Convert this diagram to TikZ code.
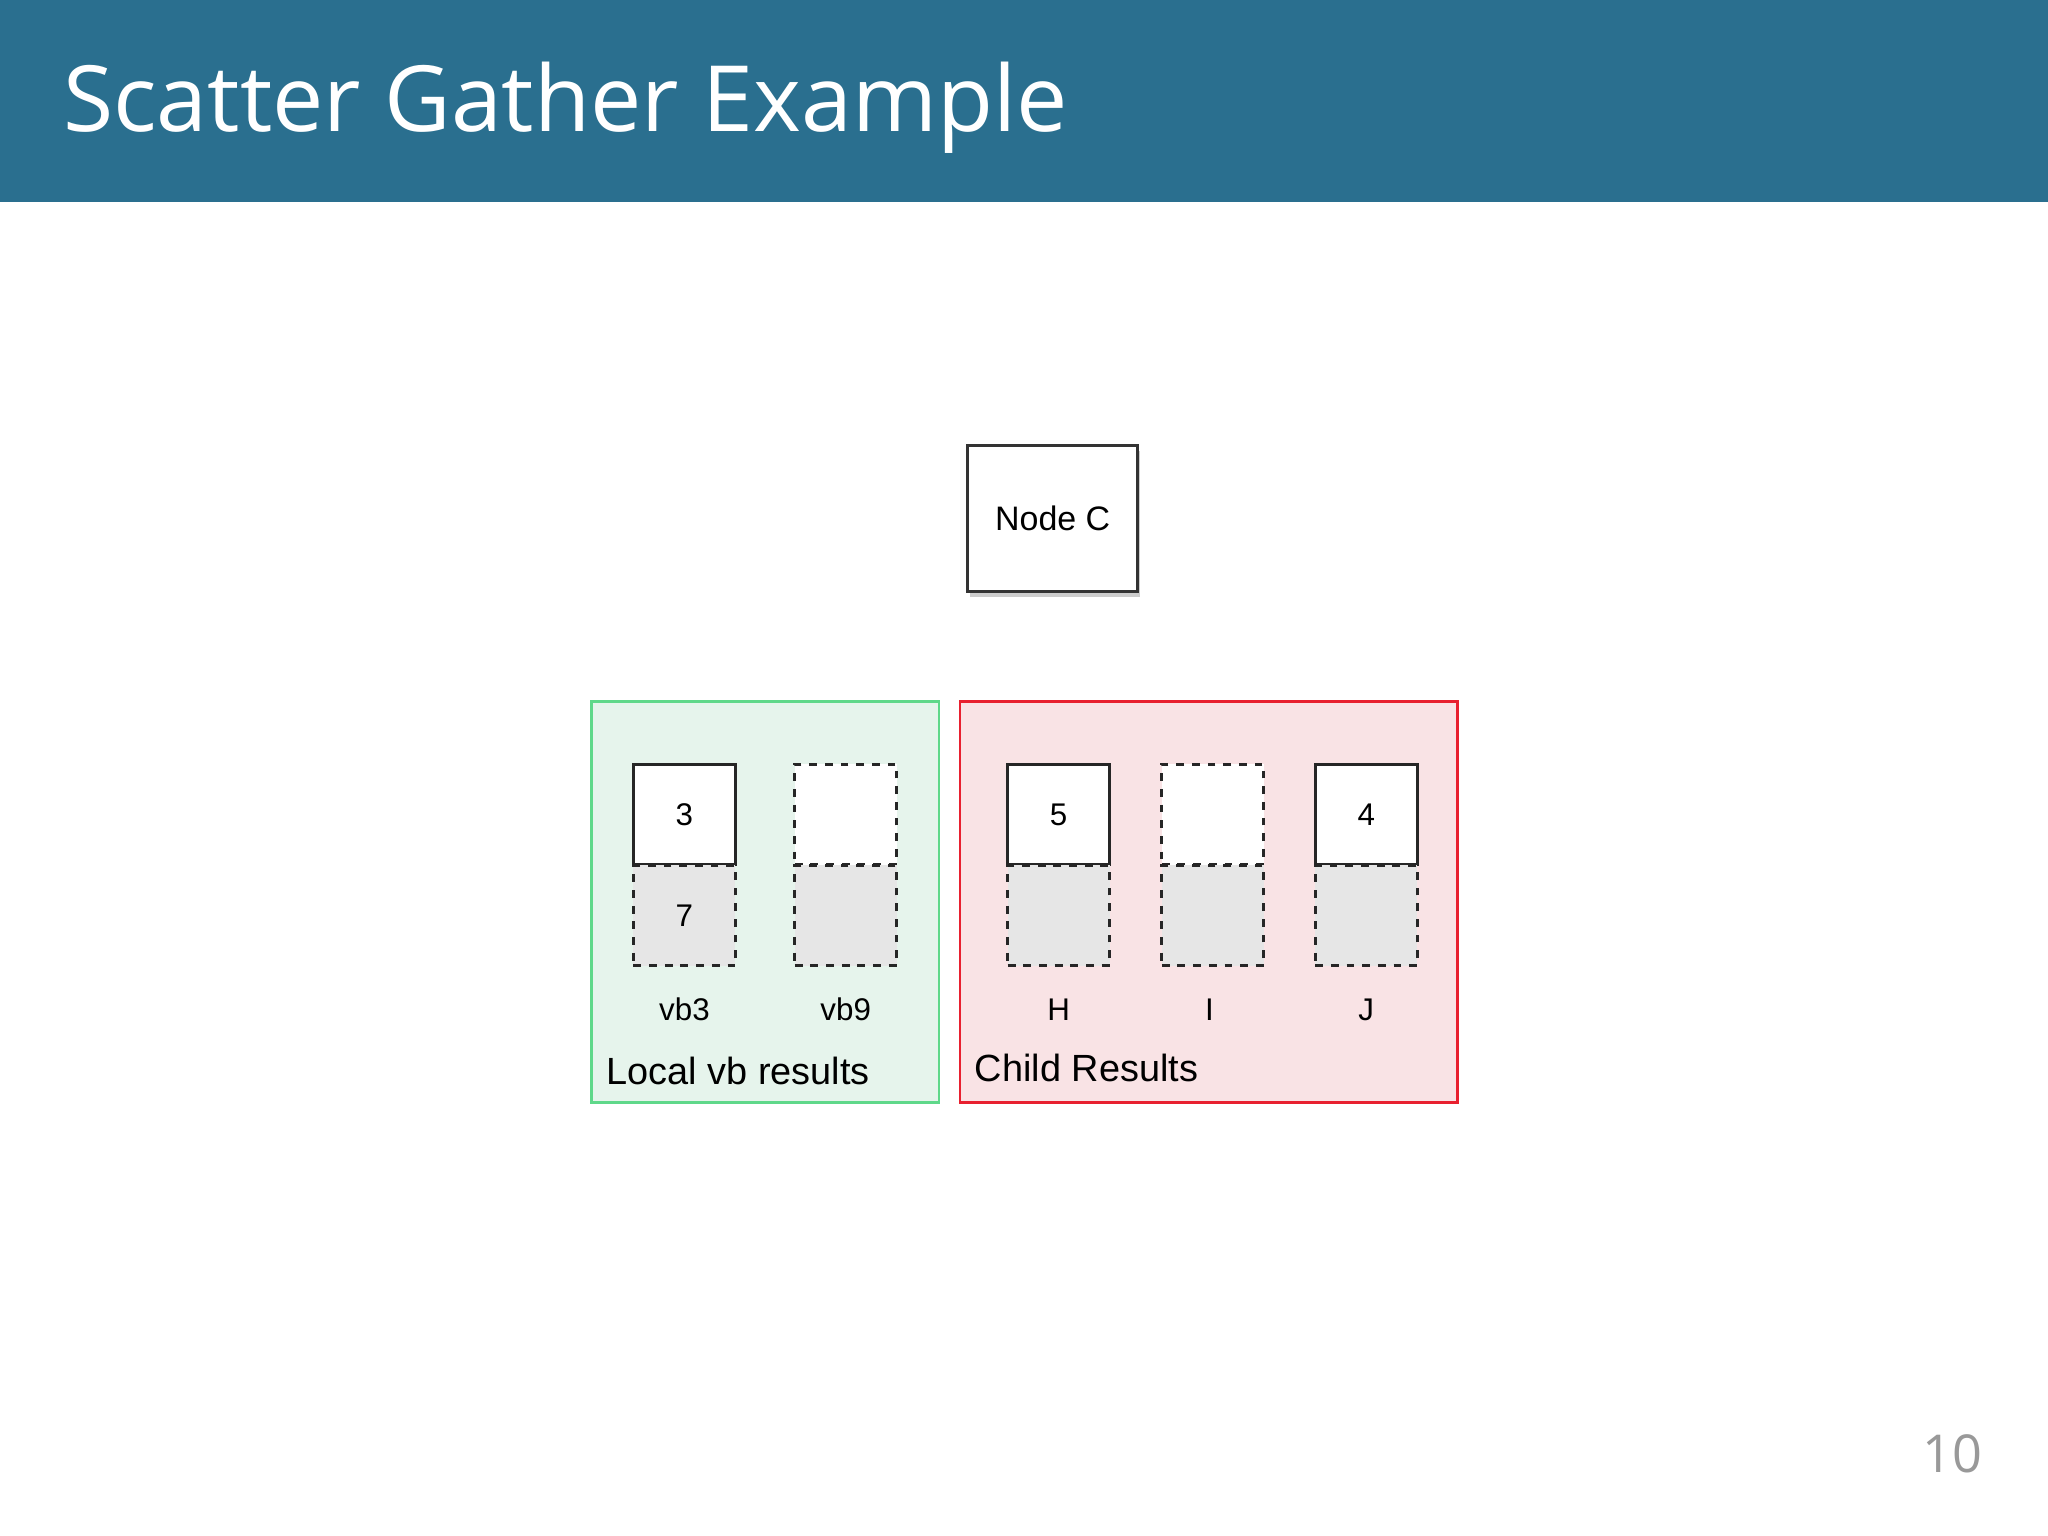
\documentclass[tikz,border=0pt]{standalone}
\usepackage{fontspec}
\setmainfont{Liberation Sans}
\newfontfamily\titlefont{Open Sans}
\usetikzlibrary{shadows}
\definecolor{hdr}{HTML}{2A6F8F}
\definecolor{gfill}{HTML}{E6F4EC}
\definecolor{gline}{HTML}{5FD88A}
\definecolor{rfill}{HTML}{F9E3E5}
\definecolor{rline}{HTML}{E8202F}
\definecolor{cellg}{HTML}{E6E6E6}
\tikzset{
 solidcell/.style={draw=black!85, line width=1.2pt, fill=white, minimum width=39pt, minimum height=38.5pt, inner sep=0pt, font=\fontsize{12}{12}\selectfont},
 dashcell/.style={draw=black!85, line width=1.2pt, dashed, fill=white, minimum width=39pt, minimum height=38.5pt, inner sep=0pt, font=\fontsize{12}{12}\selectfont},
 graycell/.style={dashcell, fill=cellg},
 lbl/.style={font=\fontsize{12}{12}\selectfont, inner sep=0pt},
 grp/.style={font=\fontsize{14.5}{14.5}\selectfont, inner sep=0pt, anchor=west}
}
\begin{document}
\begin{tikzpicture}[x=0.5pt,y=-0.5pt]
\useasboundingbox (0,0) rectangle (1568,1176);
\fill[white] (0,0) rectangle (1568,1176);
\fill[hdr] (0,0) rectangle (1568,155);
\node[anchor=base west, text=white, inner sep=0pt, font=\titlefont\fontsize{35}{35}\selectfont] (title) at (48,101) {Scatter Gather Example};
\node[draw=black!80, line width=1.2pt, fill=white, minimum width=65pt, minimum height=56pt, drop shadow={shadow xshift=1pt, shadow yshift=-2pt, opacity=0.4}, font=\fontsize{13}{13}\selectfont] (nodec) at (806,397) {Node C};
\node[draw=gline, line width=1pt, fill=gfill, minimum width=133pt, minimum height=153.5pt, inner sep=0pt] (green) at (586,690.5) {};
\node[draw=rline, line width=1pt, fill=rfill, minimum width=190.5pt, minimum height=153.5pt, inner sep=0pt] (red) at (925.5,690.5) {};
% columns
\node[solidcell] (t1) at (524,623.5) {3};
\node[graycell] (b1) at (524,701) {7};
\node[dashcell] (t2) at (647.5,623.5) {};
\node[graycell] (b2) at (647.5,701) {};
\node[solidcell] (t3) at (810.5,623.5) {5};
\node[graycell] (b3) at (810.5,701) {};
\node[dashcell] (t4) at (928.5,623.5) {};
\node[graycell] (b4) at (928.5,701) {};
\node[solidcell] (t5) at (1046,623.5) {4};
\node[graycell] (b5) at (1046,701) {};
\node[lbl] (l1) at (524,773) {vb3};
\node[lbl] (l2) at (647.5,773) {vb9};
\node[lbl] (l3) at (810.5,773) {H};
\node[lbl] (l4) at (926,773) {I};
\node[lbl] (l5) at (1046,773) {J};
\node[grp] (gl) at (464,820) {Local vb results};
\node[grp] (rl) at (746,818) {Child Results};
\node[text=black!40, font=\titlefont\fontsize{20}{20}\selectfont, inner sep=0pt] (pg) at (1495,1113) {10};
\end{tikzpicture}
\end{document}
